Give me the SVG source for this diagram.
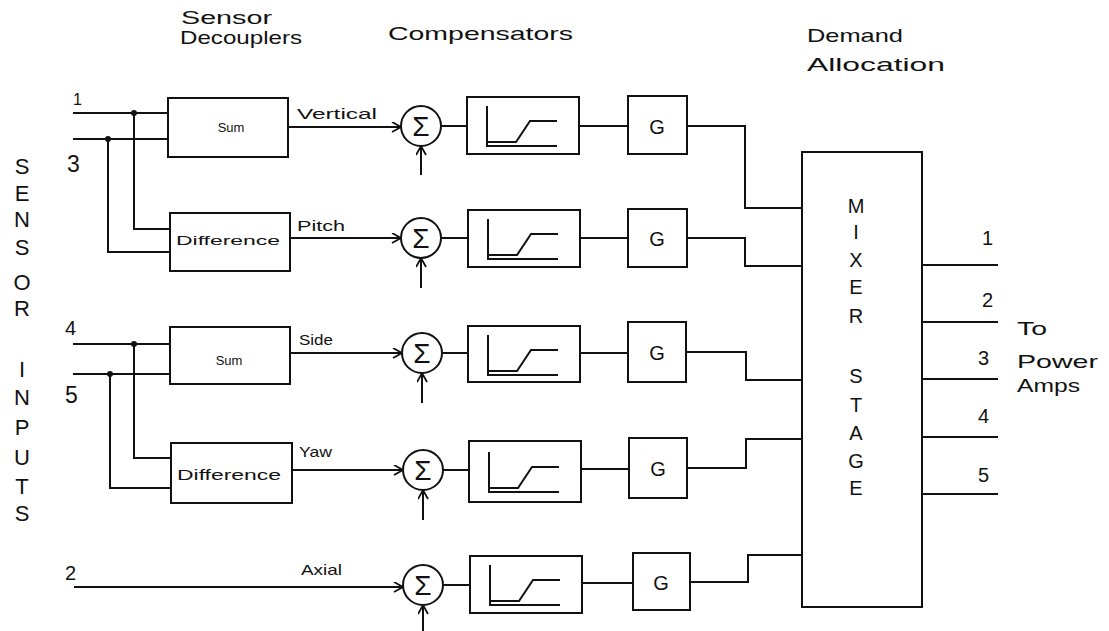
<svg xmlns="http://www.w3.org/2000/svg" width="1109" height="631" viewBox="0 0 1109 631">
  <style>
    .ln { fill: none; stroke: #111; stroke-width: 2; stroke-linejoin: miter; }
    .bx { fill: #fff; stroke: #111; stroke-width: 2; }
    .t  { font-family: "Liberation Sans", "DejaVu Sans", sans-serif; fill: #111; }
    .hd { font-size: 19px; }
    .sig { font-size: 15px; }
    .sm { font-size: 13px; text-anchor: middle; }
    .pin { font-size: 20px; }
    .big { font-size: 22px; text-anchor: middle; }
    .mx { font-size: 20px; text-anchor: middle; }
    .g  { font-size: 20px; text-anchor: middle; }
    .sg { font-size: 28px; text-anchor: middle; }
  </style>
  <defs>
    <marker id="arr" markerWidth="12" markerHeight="12" refX="10" refY="5" orient="auto" markerUnits="userSpaceOnUse">
      <path d="M1,0 L10,5 L1,10" fill="none" stroke="#111" stroke-width="1.8"/>
    </marker>
    <!-- response curve drawn inside each compensator, origin at box top-left -->
    <g id="curve">
      <path class="ln" d="M20,9 V49 H90"/>
      <path class="ln" d="M20,45 H49 L63,24 H90"/>
    </g>
  </defs>

  <!-- column headings -->
  <g id="headings">
    <text class="t hd" x="181" y="24" style="font-size:18px" textLength="91" lengthAdjust="spacingAndGlyphs">Sensor</text>
    <text class="t hd" x="180" y="44" textLength="122" lengthAdjust="spacingAndGlyphs">Decouplers</text>
    <text class="t hd" x="388" y="40" textLength="185" lengthAdjust="spacingAndGlyphs">Compensators</text>
    <text class="t hd" x="807" y="42" textLength="96" lengthAdjust="spacingAndGlyphs">Demand</text>
    <text class="t hd" x="807" y="71" textLength="138" lengthAdjust="spacingAndGlyphs">Allocation</text>
  </g>

  <!-- side caption, one letter per line -->
  <g id="sensor-inputs">
    <text class="t big" x="22" y="174">S</text>
    <text class="t big" x="22" y="201">E</text>
    <text class="t big" x="22" y="227">N</text>
    <text class="t big" x="22" y="255">S</text>
    <text class="t big" x="22" y="290">O</text>
    <text class="t big" x="22" y="316">R</text>
    <text class="t big" x="22" y="377">I</text>
    <text class="t big" x="22" y="405">N</text>
    <text class="t big" x="22" y="435">P</text>
    <text class="t big" x="22" y="465">U</text>
    <text class="t big" x="22" y="494">T</text>
    <text class="t big" x="22" y="521">S</text>
  </g>

  <!-- sensor input numbers -->
  <g id="input-labels">
    <text class="t pin" x="73" y="105" style="font-size:16px">1</text>
    <text class="t pin" x="67" y="172" style="font-size:23px">3</text>
    <text class="t pin" x="65" y="335">4</text>
    <text class="t pin" x="65" y="403" style="font-size:23px">5</text>
    <text class="t pin" x="65" y="580">2</text>
  </g>

  <!-- connectors -->
  <g id="connectors">
    <!-- inputs 1 and 3 -->
    <path class="ln" d="M73,113 H168"/>
    <path class="ln" d="M73,139 H168"/>
    <path class="ln" d="M134,113 V229 H170"/>
    <path class="ln" d="M108,139 V252 H170"/>
    <circle cx="134" cy="113" r="3" fill="#111"/>
    <circle cx="108" cy="139" r="3" fill="#111"/>
    <!-- inputs 4 and 5 -->
    <path class="ln" d="M73,344 H170"/>
    <path class="ln" d="M73,374 H170"/>
    <path class="ln" d="M134,344 V458 H171"/>
    <path class="ln" d="M110,374 V488 H171"/>
    <circle cx="134" cy="344" r="3" fill="#111"/>
    <circle cx="110" cy="374" r="3" fill="#111"/>

    <!-- decoupler outputs into summing junctions -->
    <path class="ln" d="M288,127 H401" marker-end="url(#arr)"/>
    <path class="ln" d="M290,238 H401" marker-end="url(#arr)"/>
    <path class="ln" d="M290,353 H402" marker-end="url(#arr)"/>
    <path class="ln" d="M292,470 H403" marker-end="url(#arr)"/>
    <path class="ln" d="M74,587 H403" marker-end="url(#arr)"/>

    <!-- feedback inputs from below -->
    <path class="ln" d="M421,175 V146" marker-end="url(#arr)"/>
    <path class="ln" d="M421,288 V258" marker-end="url(#arr)"/>
    <path class="ln" d="M422,403 V373" marker-end="url(#arr)"/>
    <path class="ln" d="M423,520 V490" marker-end="url(#arr)"/>
    <path class="ln" d="M423,631 V605" marker-end="url(#arr)"/>

    <!-- junction to compensator -->
    <path class="ln" d="M441,126 H467"/>
    <path class="ln" d="M441,238 H468"/>
    <path class="ln" d="M442,353 H468"/>
    <path class="ln" d="M443,470 H469"/>
    <path class="ln" d="M443,585 H470"/>

    <!-- compensator to gain -->
    <path class="ln" d="M579,126 H628"/>
    <path class="ln" d="M580,238 H628"/>
    <path class="ln" d="M580,353 H628"/>
    <path class="ln" d="M581,469 H629"/>
    <path class="ln" d="M582,583 H633"/>

    <!-- gain to mixer -->
    <path class="ln" d="M687,126 H745 V208 H802"/>
    <path class="ln" d="M687,238 H745 V266 H802"/>
    <path class="ln" d="M686,352 H746 V380 H803"/>
    <path class="ln" d="M687,468 H746 V439 H803"/>
    <path class="ln" d="M690,582 H748 V555 H803"/>

    <!-- mixer outputs -->
    <path class="ln" d="M922,265 H998"/>
    <path class="ln" d="M922,322 H998"/>
    <path class="ln" d="M922,379 H998"/>
    <path class="ln" d="M922,437 H998"/>
    <path class="ln" d="M922,494 H998"/>
  </g>

  <!-- signal names -->
  <g id="signal-labels">
    <text class="t sig" x="297" y="119" textLength="80" lengthAdjust="spacingAndGlyphs">Vertical</text>
    <text class="t sig" x="297" y="231" textLength="48" lengthAdjust="spacingAndGlyphs">Pitch</text>
    <text class="t sig" x="299" y="345" textLength="34" lengthAdjust="spacingAndGlyphs">Side</text>
    <text class="t sig" x="299" y="457" textLength="33" lengthAdjust="spacingAndGlyphs">Yaw</text>
    <text class="t sig" x="301" y="575" textLength="41" lengthAdjust="spacingAndGlyphs">Axial</text>
  </g>

  <!-- sensor decouplers -->
  <g id="sum-vertical">
    <rect class="bx" x="168" y="98" width="120" height="59"/>
    <text class="t sm" x="231" y="132">Sum</text>
  </g>
  <g id="diff-pitch">
    <rect class="bx" x="170" y="213" width="120" height="58"/>
    <text class="t sm" x="228" y="245" textLength="104" lengthAdjust="spacingAndGlyphs">Difference</text>
  </g>
  <g id="sum-side">
    <rect class="bx" x="170" y="327" width="120" height="57"/>
    <text class="t sm" x="229" y="365">Sum</text>
  </g>
  <g id="diff-yaw">
    <rect class="bx" x="171" y="443" width="121" height="60"/>
    <text class="t sm" x="229" y="480" style="font-size:14px" textLength="104" lengthAdjust="spacingAndGlyphs">Difference</text>
  </g>

  <!-- summing junctions -->
  <g id="sum-1"><circle class="bx" cx="421" cy="126" r="20"/><text class="t sg" x="421" y="136">Σ</text></g>
  <g id="sum-2"><circle class="bx" cx="421" cy="238" r="20"/><text class="t sg" x="421" y="248">Σ</text></g>
  <g id="sum-3"><circle class="bx" cx="422" cy="353" r="20"/><text class="t sg" x="422" y="363">Σ</text></g>
  <g id="sum-4"><circle class="bx" cx="423" cy="470" r="20"/><text class="t sg" x="423" y="480">Σ</text></g>
  <g id="sum-5"><circle class="bx" cx="423" cy="585" r="20"/><text class="t sg" x="423" y="595">Σ</text></g>

  <!-- compensators -->
  <g id="comp-1"><rect class="bx" x="467" y="97" width="112" height="57"/><use href="#curve" x="467" y="97"/></g>
  <g id="comp-2"><rect class="bx" x="468" y="210" width="112" height="57"/><use href="#curve" x="468" y="210"/></g>
  <g id="comp-3"><rect class="bx" x="468" y="326" width="112" height="56"/><use href="#curve" x="468" y="326"/></g>
  <g id="comp-4"><rect class="bx" x="469" y="441" width="112" height="61"/><use href="#curve" x="469" y="443"/></g>
  <g id="comp-5"><rect class="bx" x="470" y="556" width="112" height="57"/><use href="#curve" x="470" y="556"/></g>

  <!-- gain blocks -->
  <g id="gain-1"><rect class="bx" x="628" y="96" width="59" height="58"/><text class="t g" x="657" y="134">G</text></g>
  <g id="gain-2"><rect class="bx" x="628" y="209" width="59" height="58"/><text class="t g" x="657" y="246">G</text></g>
  <g id="gain-3"><rect class="bx" x="628" y="322" width="58" height="60"/><text class="t g" x="657" y="360">G</text></g>
  <g id="gain-4"><rect class="bx" x="629" y="438" width="58" height="60"/><text class="t g" x="658" y="476">G</text></g>
  <g id="gain-5"><rect class="bx" x="633" y="553" width="57" height="57"/><text class="t g" x="661" y="590">G</text></g>

  <!-- mixer stage -->
  <g id="mixer">
    <rect class="bx" x="802" y="152" width="120" height="455"/>
    <text class="t mx" x="856" y="213">M</text>
    <text class="t mx" x="856" y="239">I</text>
    <text class="t mx" x="856" y="267">X</text>
    <text class="t mx" x="856" y="294">E</text>
    <text class="t mx" x="856" y="323">R</text>
    <text class="t mx" x="856" y="383">S</text>
    <text class="t mx" x="856" y="412">T</text>
    <text class="t mx" x="856" y="440">A</text>
    <text class="t mx" x="856" y="468">G</text>
    <text class="t mx" x="856" y="495">E</text>
  </g>

  <!-- power amplifier outputs -->
  <g id="amp-labels">
    <text class="t pin" x="982" y="245">1</text>
    <text class="t pin" x="982" y="307">2</text>
    <text class="t pin" x="978" y="365">3</text>
    <text class="t pin" x="978" y="423">4</text>
    <text class="t pin" x="978" y="482">5</text>
    <text class="t hd" x="1017" y="335" textLength="30" lengthAdjust="spacingAndGlyphs">To</text>
    <text class="t hd" x="1017" y="368" textLength="81" lengthAdjust="spacingAndGlyphs">Power</text>
    <text class="t hd" x="1017" y="392" textLength="63" lengthAdjust="spacingAndGlyphs">Amps</text>
  </g>
</svg>
